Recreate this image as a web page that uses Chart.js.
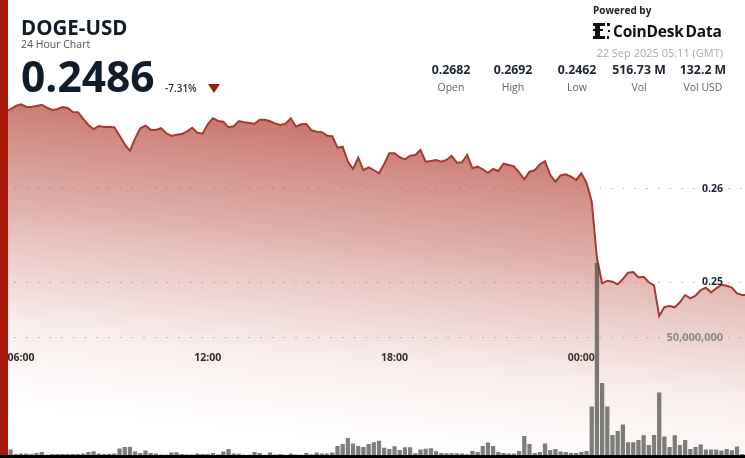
<!DOCTYPE html>
<html>
<head>
<meta charset="utf-8">
<title>DOGE-USD</title>
<script src="https://cdn.jsdelivr.net/npm/chart.js@4"></script>
<style>
html, body { margin: 0; padding: 0; background: #fff; overflow: hidden; }
body { width: 745px; height: 458px; position: relative; font-family: "Open Sans", sans-serif; color: #111c2b; }
canvas { position: absolute; left: 0; top: 0; }
.t { position: absolute; white-space: nowrap; line-height: 1; }
.c { transform: translateX(-50%); }
.v { top: 64px; font-size: 12.3px; font-weight: 700; color: #1c2533; }
.l { top: 82px; font-size: 10.5px; color: #5c6470; }
#redbar { position: absolute; left: 0; top: 0; width: 7.5px; height: 455px; background: #a8190a; }
#blackbar { position: absolute; left: 0; top: 455px; width: 745px; height: 3px; background: #000; }
#tri { position: absolute; left: 208px; top: 84px; width: 0; height: 0; border-left: 6.5px solid transparent; border-right: 6.5px solid transparent; border-top: 9px solid #9c1c0c; }
</style>
</head>
<body>
<!-- canvas runs a little past the window so the line reaches the edge -->
<canvas id="myChart" width="750" height="458"></canvas>
<div id="redbar"></div>
<div id="blackbar"></div>

<div class="t" style="left:21px;top:17px;font-size:20.5px;font-weight:700;">DOGE-USD</div>
<div class="t" style="left:21px;top:39px;font-size:10.5px;color:#555;">24 Hour Chart</div>
<div class="t" style="left:21px;top:55px;font-size:42.5px;font-weight:700;">0.2486</div>
<div class="t" style="left:165px;top:83px;font-size:10px;font-weight:600;color:#333;">-7.31%</div>
<div id="tri"></div>

<div class="t" style="left:593px;top:5px;font-size:10px;font-weight:700;color:#222;">Powered by</div>
<svg style="position:absolute;left:593px;top:23px;" width="19" height="17" fill="#111">
<rect x="0" y="0" width="12" height="3"/><rect x="2" y="3" width="5" height="11"/><rect x="0" y="6" width="10" height="2"/><rect x="0" y="13" width="12" height="3"/>
<rect x="14" y="0" width="3" height="3"/><rect x="15" y="7" width="2" height="2"/><rect x="14" y="13" width="2" height="3"/>
</svg>
<div class="t" style="left:613px;top:24px;font-size:15.5px;font-weight:700;color:#111;letter-spacing:-0.2px;word-spacing:-2px;">CoinDesk Data</div>
<div class="t" style="right:22px;top:47px;font-size:11px;color:#aaa;">22 Sep 2025 05:11 (GMT)</div>

<div class="t c v" style="left:451px;">0.2682</div><div class="t c l" style="left:451px;">Open</div>
<div class="t c v" style="left:513px;">0.2692</div><div class="t c l" style="left:513px;">High</div>
<div class="t c v" style="left:577px;">0.2462</div><div class="t c l" style="left:577px;">Low</div>
<div class="t c v" style="left:639px;">516.73 M</div><div class="t c l" style="left:639px;">Vol</div>
<div class="t c v" style="left:703px;">132.2 M</div><div class="t c l" style="left:703px;">Vol USD</div>

<script>
// ten minute buckets, first one is 05:30
var tickLabels = ["06:00", "12:00", "18:00", "00:00"];
var priceTicks = [0.25, 0.26];
var volumeTicks = [50000000];

var prices = [
    0.26830,
    0.26860, 0.26892, 0.26911, 0.26885, 0.26882, 0.26892, 0.26906, 0.26874, 0.26849, 0.26857,
    0.26882, 0.26871, 0.26828, 0.26825, 0.26753, 0.26688, 0.26645, 0.26677, 0.26667, 0.26667,
    0.26663, 0.26573, 0.26481, 0.26409, 0.26545, 0.26653, 0.26681, 0.26638, 0.26634, 0.26653,
    0.26599, 0.26570, 0.26584, 0.26591, 0.26620, 0.26659, 0.26605, 0.26595, 0.26696, 0.26760,
    0.26731, 0.26724, 0.26663, 0.26674, 0.26731, 0.26717, 0.26710, 0.26702, 0.26745, 0.26745,
    0.26728, 0.26706, 0.26688, 0.26702, 0.26760, 0.26670, 0.26696, 0.26699, 0.26631, 0.26616,
    0.26610, 0.26573, 0.26567, 0.26444, 0.26455, 0.26294, 0.26215, 0.26337, 0.26204, 0.26233,
    0.26204, 0.26169, 0.26269, 0.26384, 0.26384, 0.26341, 0.26319, 0.26358, 0.26366, 0.26419,
    0.26294, 0.26301, 0.26312, 0.26294, 0.26312, 0.26355, 0.26283, 0.26287, 0.26366, 0.26223,
    0.26240, 0.26212, 0.26175, 0.26215, 0.26194, 0.26272, 0.26258, 0.26244, 0.26180, 0.26104,
    0.26186, 0.26201, 0.26266, 0.26298, 0.26151, 0.26078, 0.26147, 0.26158, 0.26132, 0.26097,
    0.26169, 0.26068, 0.25863, 0.25258, 0.24986, 0.25014, 0.25003, 0.24975, 0.25032, 0.25100,
    0.25108, 0.25050, 0.25057, 0.24997, 0.24964, 0.24634, 0.24731, 0.24742, 0.24728, 0.24782,
    0.24860, 0.24825, 0.24853, 0.24914, 0.24939, 0.24889, 0.24932, 0.24971, 0.24960, 0.24939,
    0.24878, 0.24860, 0.24860
];

// volume in millions
var volumes = [
    0.4,
    2.3, 0.4, 0.6, 0.6, 0.4, 0.9, 1.3, 0.1, 0.4, 0.4,
    0.4, 0.4, 0.4, 0.4, 0.6, 1.3, 1.6, 0.6, 0.4, 0.5,
    0.6, 2.8, 3.4, 3.5, 1.5, 0.9, 1.9, 0.9, 0.6, 0.2,
    0.1, 1.1, 1.2, 0.4, 0.2, 0.2, 0.6, 0.4, 0.4, 0.9,
    0.2, 1.5, 2.6, 0.6, 0.5, 0.1, 0.1, 1.3, 0.9, 0.1,
    1.1, 0.2, 0.4, 0.1, 0.6, 0.2, 0.1, 0.9, 0.3, 1.1,
    0.6, 0.6, 1.1, 3.8, 4.7, 7.3, 4.9, 3.8, 3.4, 4.7,
    5.4, 6.1, 3.1, 2.6, 3.7, 2.1, 3.3, 3.3, 0.7, 2.3,
    2.7, 2.9, 1.6, 0.9, 0.7, 0.7, 0.7, 0.6, 0.3, 1.7,
    1.3, 3.8, 5.3, 3.8, 1.3, 0.9, 0.6, 0.6, 1.7, 8.1,
    4.7, 0.9, 1.3, 4.9, 2.1, 2.6, 1.5, 1.3, 0.9, 0.9,
    1.3, 1.7, 20.7, 82.1, 30.8, 20.7, 8.5, 10.3, 13.0, 5.4,
    5.4, 6.4, 8.4, 4.3, 8.5, 26.7, 7.9, 3.4, 8.4, 4.3,
    6.4, 2.6, 3.4, 4.5, 2.4, 2.4, 2.4, 1.9, 2.6, 2.0,
    3.6, 0.4, 0.4
];

var labels = [];
for (var i = 0; i < prices.length; i++) {
    var mins = (5 * 60 + 30 + i * 10) % 1440;
    labels.push(("0" + Math.floor(mins / 60)).slice(-2) + ":" + ("0" + (mins % 60)).slice(-2));
}

// axes sit inside the plot, they should not take room from it
function flatX(scale) {
    scale.height = 0;
    scale.paddingLeft = 0;
    scale.paddingRight = 0;
}
function flatY(scale) {
    scale.width = 0;
    scale.paddingTop = 0;
    scale.paddingBottom = 0;
}

var ctx = document.getElementById("myChart");

var myChart = new Chart(ctx, {
    data: {
        labels: labels,
        datasets: [{
            type: "bar",
            label: "Volume",
            yAxisID: "y1",
            order: 1,
            data: volumes.map(function(v) { return v * 1000000; }),
            backgroundColor: "rgba(70,72,66,0.7)",
            barPercentage: 0.82,
            categoryPercentage: 1
        }, {
            type: "line",
            label: "Price",
            yAxisID: "y",
            order: 2,
            data: prices,
            borderColor: "#a63a30",
            borderWidth: 2,
            pointRadius: 0,
            tension: 0,
            fill: "start",
            backgroundColor: function(context) {
                var area = context.chart.chartArea;
                if (!area) return "transparent";
                // tilted a little, the bottom left fades first
                var g = context.chart.ctx.createLinearGradient(373, 100, 338, area.bottom - 10);
                g.addColorStop(0, "rgba(176,62,52,0.80)");
                g.addColorStop(0.4, "rgba(190,90,80,0.48)");
                g.addColorStop(0.75, "rgba(200,110,100,0.12)");
                g.addColorStop(1, "rgba(200,110,100,0)");
                return g;
            }
        }]
    },
    options: {
        responsive: false,
        animation: false,
        layout: { padding: { left: 2.8, right: 0, top: 0, bottom: 3 } },
        plugins: {
            legend: { display: false },
            tooltip: { enabled: false }
        },
        scales: {
            x: {
                position: { y: 0.24409 },
                offset: true,
                afterFit: flatX,
                grid: { display: false },
                border: { display: false },
                ticks: {
                    autoSkip: false,
                    maxRotation: 0,
                    padding: 7,
                    color: "#222",
                    font: { family: "Open Sans", size: 10.5, weight: "bold" },
                    callback: function(value) {
                        var lab = this.getLabelForValue(value);
                        return tickLabels.indexOf(lab) >= 0 ? lab : "";
                    }
                }
            },
            y: {
                position: "right",
                min: 0.2314,
                max: 0.28032,
                afterFit: flatY,
                afterBuildTicks: function(scale) {
                    scale.ticks = priceTicks.map(function(v) { return { value: v }; });
                },
                grid: { color: "rgba(60,60,60,0.4)", drawTicks: false, lineWidth: 1 },
                border: { display: false, dash: [1.5, 10.2] },
                ticks: {
                    mirror: true,
                    padding: -27,
                    z: 1,
                    color: "#1c2533",
                    font: { family: "Open Sans", size: 10.5, weight: "bold" },
                    callback: function(value) { return value.toFixed(2); }
                }
            },
            y1: {
                position: "right",
                min: 0,
                max: 194400000,
                afterFit: flatY,
                afterBuildTicks: function(scale) {
                    scale.ticks = volumeTicks.map(function(v) { return { value: v }; });
                },
                grid: { color: "rgba(60,60,60,0.4)", drawTicks: false, lineWidth: 1 },
                border: { display: false, dash: [1.5, 10.2] },
                ticks: {
                    mirror: true,
                    padding: -27,
                    z: 1,
                    color: "#8a8a8a",
                    font: { family: "Open Sans", size: 11, weight: "bold" },
                    callback: function(value) { return value.toLocaleString("en-US"); }
                }
            }
        }
    }
});
</script>
</body>
</html>
